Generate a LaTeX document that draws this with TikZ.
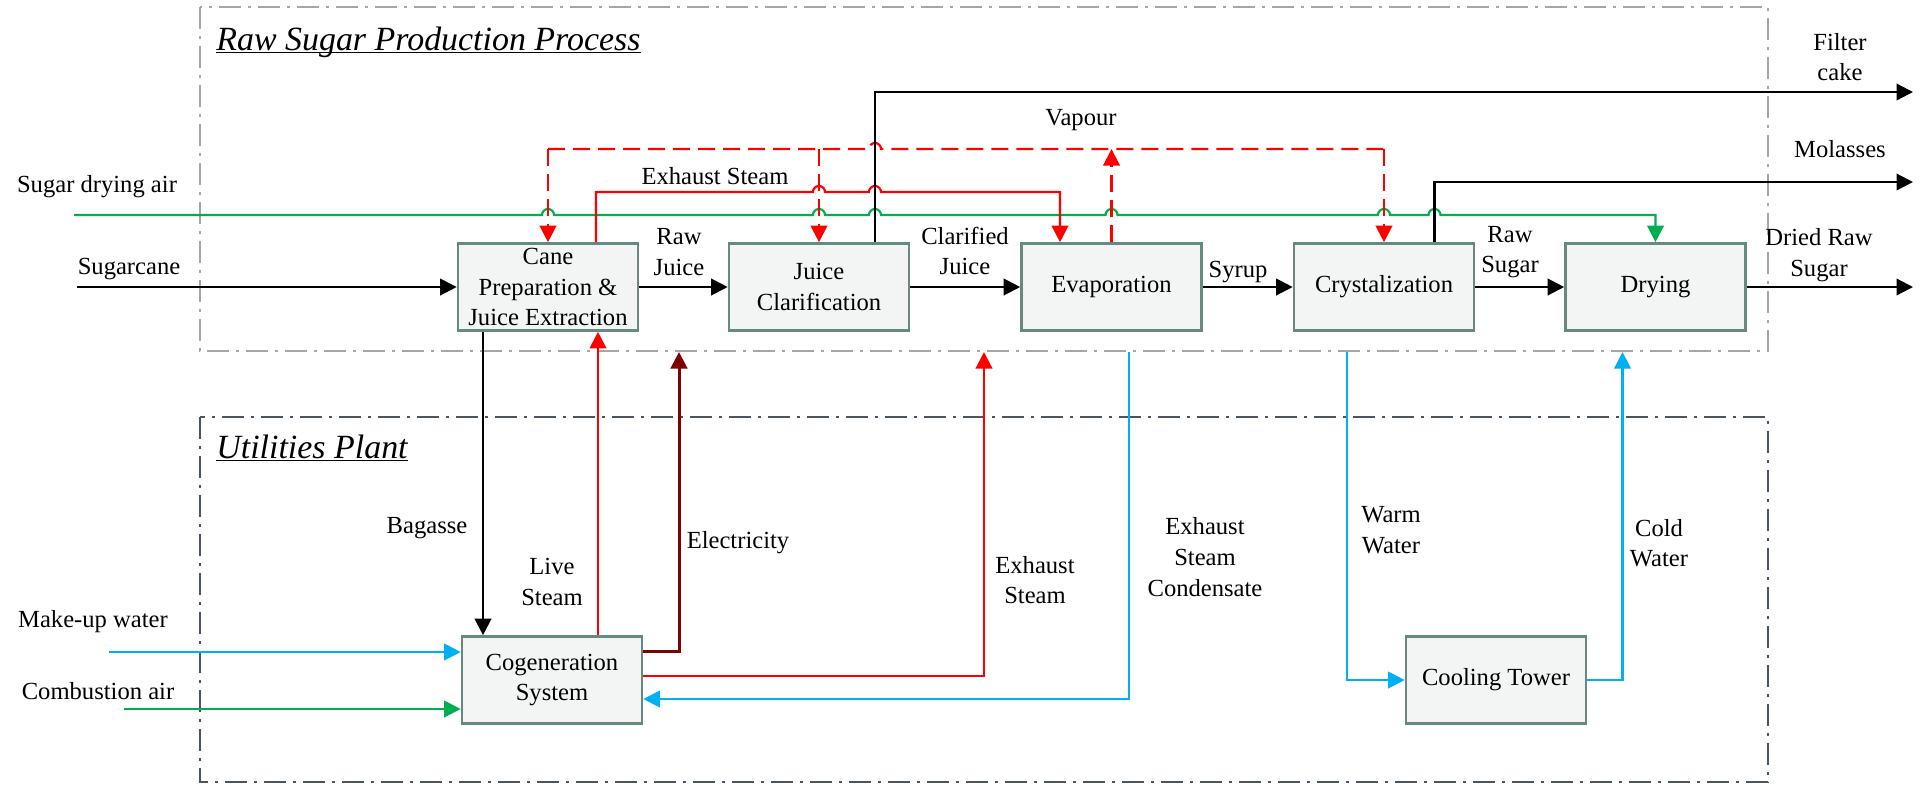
\documentclass[tikz,border=0pt]{standalone}
\usepackage{fontspec}
\setmainfont{Liberation Serif}
\usetikzlibrary{arrows.meta}
\definecolor{boxline}{HTML}{668A82}
\definecolor{boxfill}{HTML}{F3F5F4}
\definecolor{steamred}{HTML}{FF0000}
\definecolor{elecred}{HTML}{7F0000}
\definecolor{waterblue}{HTML}{00B0F0}
\definecolor{airgreen}{HTML}{00B050}
\definecolor{zonegrayA}{HTML}{A6A6A6}
\definecolor{zonegrayB}{HTML}{4B5461}
\newcommand\hop[1]{-- ([xshift=-1.2mm]#1) arc[start angle=180,end angle=0,radius=1.2mm]}

\begin{document}
\begin{tikzpicture}[x=0.2mm,y=-0.2mm,font=\fontsize{14}{17.4}\selectfont,
		procbox/.style={draw=boxline,fill=boxfill,line width=1.5pt,minimum width=36mm,minimum height=17.4mm,align=center,inner sep=0.5pt},
		flow/.style={line width=1.25pt,-{Triangle[length=3.3mm,width=3.3mm]}},
		vap/.style={steamred,line width=1.25pt,dash pattern=on 3.4mm off 1.6mm},
		zone/.style={line width=1pt,dash pattern=on 4.4mm off 1.4mm on 0.6mm off 1.4mm},
		lbl/.style={align=center,inner sep=0pt},
		ttl/.style={inner sep=0pt,font=\fontsize{19.3}{23}\selectfont\itshape}]
	\useasboundingbox (0,0) rectangle (1926,784);
	\draw[zone,zonegrayA] (200,7) rectangle (1768,351);
	\draw[zone,zonegrayB] (200,417) rectangle (1768,782);
	\node[ttl,anchor=base west] (tProc) at (216,50) {Raw Sugar Production Process};
	\node[ttl,anchor=base west] (tUtil) at (216,458) {Utilities Plant};
	\draw[line width=0.7pt] ([yshift=-0.5mm]tProc.base west) -- ([yshift=-0.5mm]tProc.base east);
	\draw[line width=0.7pt] ([yshift=-0.5mm]tUtil.base west) -- ([yshift=-0.5mm]tUtil.base east);

	\node[procbox] (cane) at (548,287) {Cane\\Preparation \&\\Juice Extraction};
	\node[procbox] (clar) at (819,287) {Juice\\Clarification};
	\node[procbox] (evap) at (1111.5,287) {Evaporation};
	\node[procbox] (cryst) at (1384,287) {Crystalization};
	\node[procbox] (dry) at (1655.5,287) {Drying};
	\node[procbox] (cogen) at (552,680) {Cogeneration\\System};
	\node[procbox] (tower) at (1496,680) {Cooling Tower};

	\coordinate (caneIn) at (77,287);
	\coordinate (airIn) at (74,215);
	\coordinate (waterIn) at (109,652);
	\coordinate (combIn) at (124,709);
	\coordinate (cakeOut) at (1913,92);
	\coordinate (molOut) at (1913,182);
	\coordinate (sugarOut) at (1913,287);
	\coordinate (vapY) at (0,149);
	\coordinate (exhY) at (0,192);
	\coordinate (cakeUp) at ([xshift=11.2mm]clar.north);
	\coordinate (molUp) at ([xshift=10.1mm]cryst.north);
	\coordinate (exhOut) at ([xshift=9.6mm]cane.north);
	\coordinate (exhIn) at ([xshift=-10.3mm]evap.north);
	\coordinate (bagOut) at ([xshift=-13mm]cane.south);
	\coordinate (liveIn) at ([xshift=10mm]cane.south);
	\coordinate (elecUp) at (679,352);
	\coordinate (steamUp) at (984,352);
	\coordinate (condTop) at (1129,352);
	\coordinate (warmTop) at (1347,352);
	\coordinate (coldUp) at (1622.5,352);

	\draw[flow,airgreen] (airIn) \hop{cane.north |- airIn} \hop{clar.north |- airIn} \hop{cakeUp |- airIn} \hop{evap.north |- airIn} \hop{cryst.north |- airIn} \hop{molUp |- airIn} -| (dry.north);
	\draw[flow,steamred] (exhOut) -- (exhOut |- exhY) \hop{clar.north |- exhY} \hop{cakeUp |- exhY} -| (exhIn);
	\draw[vap] (cane.north |- vapY) \hop{cakeUp |- vapY} -- (cryst.north |- vapY);
	\foreach \n in {cane,clar,cryst}
		\draw[vap,flow] (\n.north |- vapY) -- (\n.north);
	\draw[vap,flow] (evap.north) -- (evap.north |- vapY);

	\draw[flow] (caneIn) -- (cane);
	\foreach \a/\b in {cane/clar,clar/evap,evap/cryst,cryst/dry}
		\draw[flow] (\a) -- (\b);
	\draw[flow] (dry) -- (sugarOut);
	\draw[flow] (cakeUp) |- (cakeOut);
	\draw[flow] (molUp) |- (molOut);

	\draw[flow] (bagOut) -- (bagOut |- cogen.north);
	\draw[flow,steamred] (liveIn |- cogen.north) -- (liveIn);
	\draw[flow,elecred,line width=1.7pt] ([yshift=5.8mm]cogen.east) -| (elecUp);
	\draw[flow,steamred] ([yshift=0.8mm]cogen.east) -| (steamUp);
	\draw[flow,waterblue] (condTop) |- ([yshift=-3.8mm]cogen.east);
	\draw[flow,waterblue] (warmTop) |- (tower.west);
	\draw[flow,waterblue] (tower.east) -| (coldUp);
	\draw[flow,waterblue] (waterIn) -- (waterIn -| cogen.west);
	\draw[flow,airgreen] (combIn) -- (combIn -| cogen.west);

	\node[lbl] (lSugarcane) at (129,269) {Sugarcane};
	\node[lbl] (lAir) at (97,187) {Sugar drying air};
	\node[lbl] (lRawJuice) at (679,252) {Raw\\Juice};
	\node[lbl] (lClarJuice) at (965,251) {Clarified\\Juice};
	\node[lbl] (lSyrup) at (1238,272) {Syrup};
	\node[lbl] (lRawSugar) at (1510,252) {Raw\\Sugar};
	\node[lbl] (lDried) at (1819,255) {Dried Raw\\Sugar};
	\node[lbl] (lCake) at (1840,57) {Filter\\cake};
	\node[lbl] (lMol) at (1840,149) {Molasses};
	\node[lbl] (lVapour) at (1081,120) {Vapour};
	\node[lbl] (lExhTop) at (715,176) {Exhaust Steam};
	\node[lbl] (lBagasse) at (427,528) {Bagasse};
	\node[lbl] (lLive) at (552,582) {Live\\Steam};
	\node[lbl] (lElec) at (738,543) {Electricity};
	\node[lbl] (lExhBot) at (1035,580) {Exhaust\\Steam};
	\node[lbl] (lCond) at (1205,557) {Exhaust\\Steam\\Condensate};
	\node[lbl] (lWarm) at (1391,530) {Warm\\Water};
	\node[lbl] (lCold) at (1659,543) {Cold\\Water};
	\node[lbl] (lMakeup) at (93,622) {Make-up water};
	\node[lbl] (lComb) at (98,691) {Combustion air};
\end{tikzpicture}
\end{document}
